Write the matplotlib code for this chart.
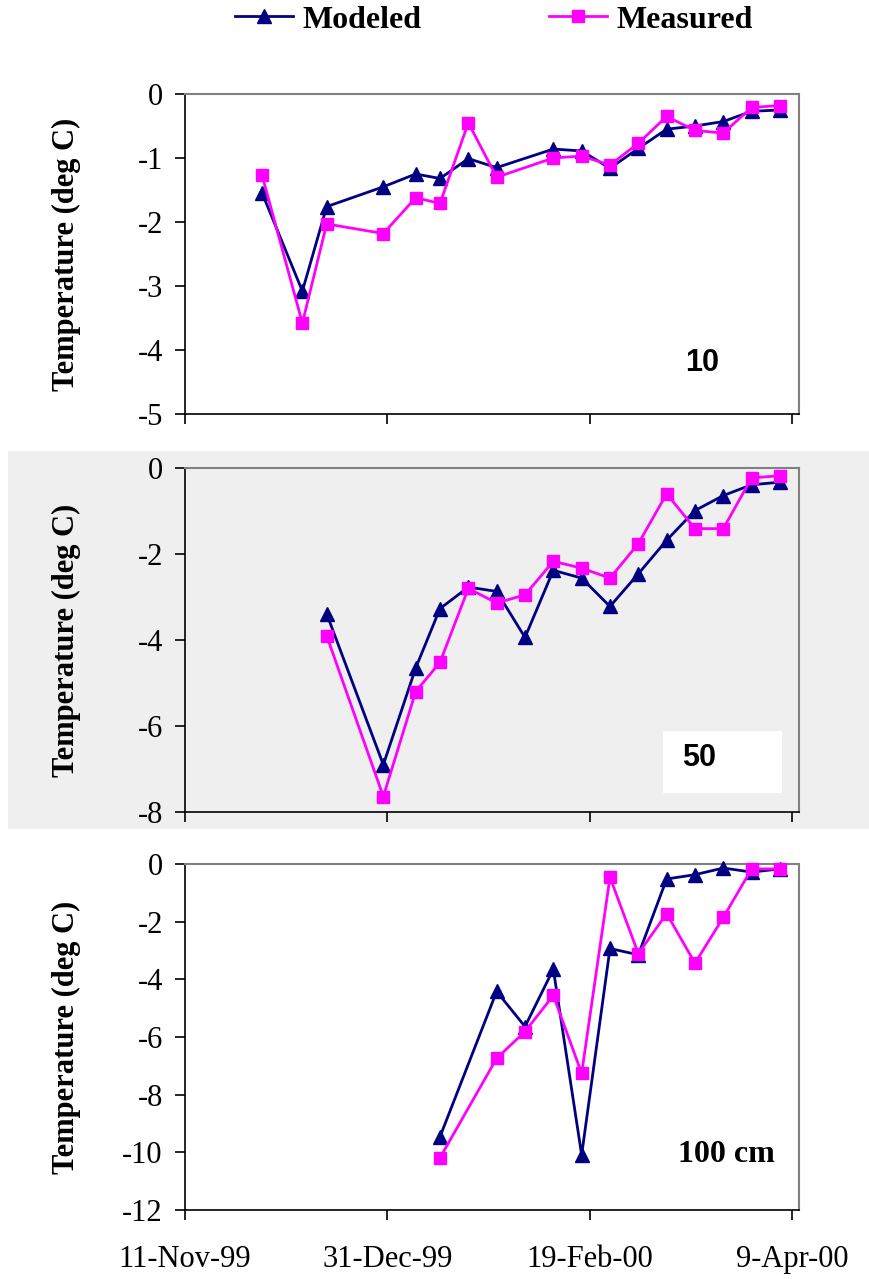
import numpy as np
import matplotlib
matplotlib.use("Agg")
import matplotlib.pyplot as plt
import matplotlib.dates as mdates
from matplotlib.patches import Rectangle
from matplotlib.lines import Line2D

W, H = 869, 1279
DPI = 100

SERIF = "Liberation Serif"
SANS = "Liberation Sans"
NAVY = "#000080"
MAGENTA = "#FF00FF"
PANEL_GREY = "#EFEFEF"

# ---- data: soil temperature at three depths ----
dates_10 = np.array(["1999-11-30", "1999-12-10", "1999-12-16", "1999-12-30",
                     "2000-01-07", "2000-01-13", "2000-01-20", "2000-01-27",
                     "2000-02-10", "2000-02-17", "2000-02-24", "2000-03-02",
                     "2000-03-09", "2000-03-16", "2000-03-23", "2000-03-30",
                     "2000-04-06"], dtype="datetime64[D]")
modeled_10 = [-1.54, -3.08, -1.76, -1.45, -1.25, -1.32, -1.01, -1.15, -0.86,
              -0.89, -1.16, -0.85, -0.55, -0.50, -0.43, -0.27, -0.25]
measured_10 = [-1.26, -3.58, -2.03, -2.18, -1.62, -1.71, -0.45, -1.30, -1.00,
               -0.97, -1.11, -0.77, -0.35, -0.57, -0.61, -0.21, -0.18]

dates_50 = np.array(["1999-12-16", "1999-12-30", "2000-01-07", "2000-01-13",
                     "2000-01-20", "2000-01-27", "2000-02-03", "2000-02-10",
                     "2000-02-17", "2000-02-24", "2000-03-02", "2000-03-09",
                     "2000-03-16", "2000-03-23", "2000-03-30", "2000-04-06"],
                    dtype="datetime64[D]")
modeled_50 = [-3.39, -6.90, -4.65, -3.27, -2.77, -2.87, -3.94, -2.38, -2.56,
              -3.22, -2.46, -1.68, -0.99, -0.64, -0.39, -0.33]
measured_50 = [-3.90, -7.64, -5.20, -4.52, -2.80, -3.14, -2.95, -2.17, -2.33,
               -2.56, -1.76, -0.60, -1.41, -1.41, -0.23, -0.18]

dates_100 = np.array(["2000-01-13", "2000-01-27", "2000-02-03", "2000-02-10",
                      "2000-02-17", "2000-02-24", "2000-03-02", "2000-03-09",
                      "2000-03-16", "2000-03-23", "2000-03-30", "2000-04-06"],
                     dtype="datetime64[D]")
modeled_100 = [-9.46, -4.42, -5.64, -3.65, -10.09, -2.93, -3.15, -0.52,
               -0.37, -0.14, -0.28, -0.17]
measured_100 = [-10.19, -6.74, -5.81, -4.56, -7.26, -0.46, -3.11, -1.72,
                -3.44, -1.85, -0.17, -0.17]

x_ticks = np.array(["1999-11-11", "1999-12-31", "2000-02-19", "2000-04-09"],
                   dtype="datetime64[D]")

panels = [
    # dates, modeled, measured, yticks, label, (top, bottom) in px
    (dates_10, modeled_10, measured_10, [0, -1, -2, -3, -4, -5], "10", (94, 414)),
    (dates_50, modeled_50, measured_50, [0, -2, -4, -6, -8], "50", (468, 812)),
    (dates_100, modeled_100, measured_100, [0, -2, -4, -6, -8, -10, -12], "100 cm", (864, 1210)),
]

fig = plt.figure(figsize=(W / DPI, H / DPI), dpi=DPI)

# grey band behind the middle panel
fig.patches.append(Rectangle((8 / W, 1 - 829 / H), (W - 8) / W, (829 - 451) / H,
                             transform=fig.transFigure, facecolor=PANEL_GREY,
                             edgecolor="none", zorder=-5))

x0 = mdates.date2num(x_ticks[0])
left, right = 185, 799

for i, (dates, mod, meas, yt, tag, (top, bot)) in enumerate(panels):
    ax = fig.add_axes([left / W, 1 - bot / H, (right - left) / W, (bot - top) / H])
    ax.set_facecolor(PANEL_GREY if i == 1 else "white")

    ax.plot(dates, mod, color=NAVY, lw=2, marker="^", ms=10, mec=NAVY, mfc=NAVY,
            clip_on=False, zorder=3)
    ax.plot(dates, meas, color=MAGENTA, lw=2, marker="s", ms=8.5, mec=MAGENTA,
            mfc=MAGENTA, clip_on=False, zorder=4)

    ax.set_xlim(x0, x0 + 151.7)
    ax.set_ylim(yt[-1], 0)
    ax.set_xticks(x_ticks)
    ax.set_yticks(yt)
    ax.set_yticklabels([str(v) for v in yt])
    ax.xaxis.set_major_formatter(mdates.DateFormatter("%-d-%b-%y"))

    for s in ("left", "bottom"):
        ax.spines[s].set_color("black")
        ax.spines[s].set_linewidth(1.2)
    for s in ("top", "right"):
        ax.spines[s].set_color("#808080")
        ax.spines[s].set_linewidth(1.5)

    ax.tick_params(axis="both", direction="out", length=7, width=1.2,
                   labelsize=22, colors="black")
    ax.tick_params(axis="y", pad=9)
    ax.tick_params(axis="x", pad=18)
    for lab in ax.get_xticklabels() + ax.get_yticklabels():
        lab.set_fontfamily(SERIF)
    if i < 2:
        ax.tick_params(axis="x", labelbottom=False)

    ax.set_ylabel("Temperature (deg C)", fontsize=22, fontweight="bold",
                  family=SERIF)
    ax.yaxis.set_label_coords(-0.17, 0.5)

    # depth tags
    if i == 0:
        ax.text(0.843, 0.16, tag, transform=ax.transAxes, ha="center",
                va="center", fontsize=22, fontweight="bold", family=SANS)
    elif i == 1:
        ax.add_patch(Rectangle((0.778, 0.055), 0.195, 0.18,
                               transform=ax.transAxes, facecolor="white",
                               edgecolor="none", zorder=1))
        ax.text(0.837, 0.158, tag, transform=ax.transAxes, ha="center",
                va="center", fontsize=22, fontweight="bold", family=SANS,
                zorder=5)
    else:
        ax.text(0.882, 0.16, tag, transform=ax.transAxes, ha="center",
                va="center", fontsize=23, fontweight="bold", family=SERIF)

handles = [
    Line2D([], [], color=NAVY, lw=2, marker="^", ms=10, mec=NAVY, mfc=NAVY),
    Line2D([], [], color=MAGENTA, lw=2, marker="s", ms=8.5, mec=MAGENTA, mfc=MAGENTA),
]
fig.legend(handles, ["Modeled", "Measured"], loc="center",
           bbox_to_anchor=(494 / W, 1 - 20 / H), ncol=2, frameon=False,
           prop={"family": SERIF, "weight": "bold", "size": 23},
           handlelength=1.8, handletextpad=0.3, columnspacing=4.0)

fig.savefig("out.png", dpi=DPI)
